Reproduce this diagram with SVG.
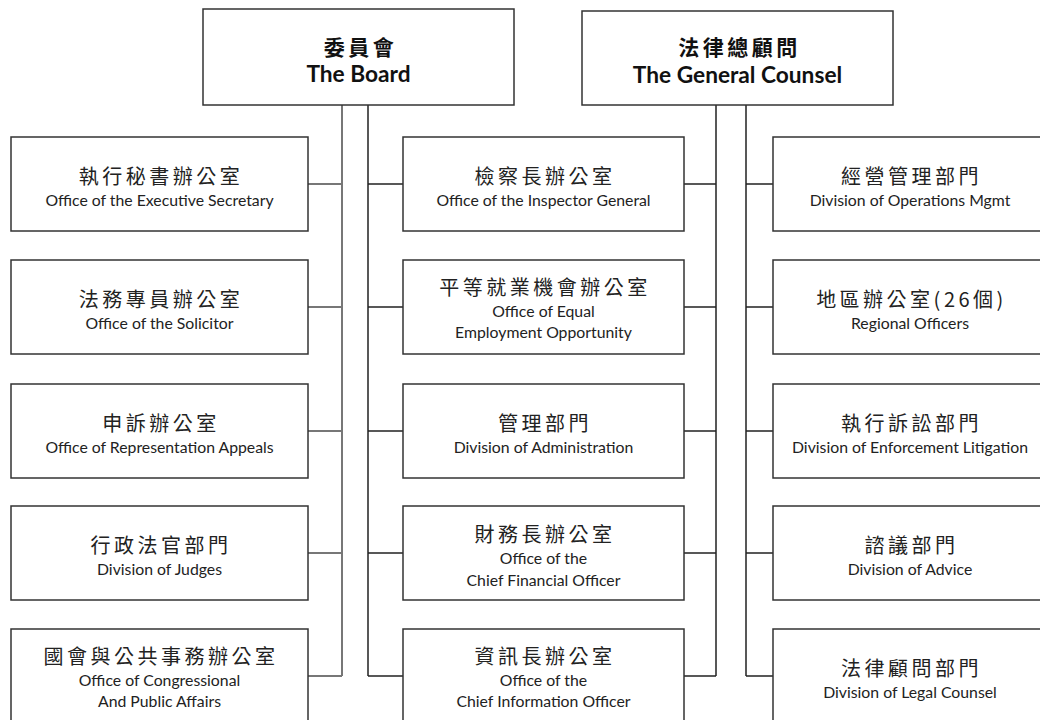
<svg xmlns="http://www.w3.org/2000/svg" width="1040" height="720" viewBox="0 0 1040 720">
<style>
.box{fill:#fff;stroke:#333;stroke-width:1.5}
.zh{font-family:"Noto Sans CJK TC","Noto Sans CJK SC",sans-serif;font-size:20px;letter-spacing:3.5px;fill:#222;text-anchor:middle}
.en{font-family:Lato,"Liberation Sans",sans-serif;font-size:15.8px;fill:#222;text-anchor:middle}
.hzh{font-family:"Noto Sans CJK TC","Noto Sans CJK SC",sans-serif;font-size:21px;font-weight:bold;letter-spacing:3.5px;fill:#111;text-anchor:middle}
.hen{font-family:Lato,"Liberation Sans",sans-serif;font-size:22.7px;font-weight:bold;fill:#111;text-anchor:middle}
.ln{fill:none;stroke:#222;stroke-width:1.5}
.lg{fill:none;stroke:#777;stroke-width:2}
</style>
<rect width="1040" height="720" fill="#fff"/>
<g id="connectors">
<path class="lg" d="M342,105V676M308,184H342M308,307H342M308,431H342M308,553H342M308,676H342"/>
<path class="ln" d="M368,105V676M368,184H403M368,307H403M368,431H403M368,553H403M368,676H403"/>
<path class="ln" d="M716,105V676M684,184H716M684,307H716M684,431H716M684,553H716M684,676H716"/>
<path class="ln" d="M746,105V676M746,184H773M746,307H773M746,431H773M746,553H773M746,676H773"/>
</g>
<g id="board"><rect class="box" x="203" y="9" width="311" height="96"/>
<text class="hzh" x="360.5" y="55">委員會</text><text class="hen" x="358.5" y="82">The Board</text></g>
<g id="counsel"><rect class="box" x="582" y="11" width="311" height="94"/>
<text class="hzh" x="739.5" y="55">法律總顧問</text><text class="hen" x="737.5" y="83">The General Counsel</text></g>

<g id="l1"><rect class="box" x="11" y="137" width="297" height="94"/>
<text class="zh" x="161" y="184">執行秘書辦公室</text><text class="en" x="159.5" y="206">Office of the Executive Secretary</text></g>
<g id="l2"><rect class="box" x="11" y="260" width="297" height="94"/>
<text class="zh" x="161" y="307">法務專員辦公室</text><text class="en" x="159.5" y="329">Office of the Solicitor</text></g>
<g id="l3"><rect class="box" x="11" y="384" width="297" height="94"/>
<text class="zh" x="161" y="431">申訴辦公室</text><text class="en" x="159.5" y="453">Office of Representation Appeals</text></g>
<g id="l4"><rect class="box" x="11" y="506" width="297" height="94"/>
<text class="zh" x="161" y="553">行政法官部門</text><text class="en" x="159.5" y="575">Division of Judges</text></g>
<g id="l5"><rect class="box" x="11" y="629" width="297" height="94"/>
<text class="zh" x="161" y="664">國會與公共事務辦公室</text><text class="en" x="159.5" y="686">Office of Congressional</text><text class="en" x="159.5" y="707">And Public Affairs</text></g>

<g id="m1"><rect class="box" x="403" y="137" width="281" height="94"/>
<text class="zh" x="545" y="184">檢察長辦公室</text><text class="en" x="543.5" y="206">Office of the  Inspector General</text></g>
<g id="m2"><rect class="box" x="403" y="260" width="281" height="94"/>
<text class="zh" x="545" y="295">平等就業機會辦公室</text><text class="en" x="543.5" y="317">Office of Equal</text><text class="en" x="543.5" y="338">Employment  Opportunity</text></g>
<g id="m3"><rect class="box" x="403" y="384" width="281" height="94"/>
<text class="zh" x="545" y="431">管理部門</text><text class="en" x="543.5" y="453">Division of Administration</text></g>
<g id="m4"><rect class="box" x="403" y="506" width="281" height="94"/>
<text class="zh" x="545" y="542">財務長辦公室</text><text class="en" x="543.5" y="564">Office of the</text><text class="en" x="543.5" y="586">Chief Financial Officer</text></g>
<g id="m5"><rect class="box" x="403" y="629" width="281" height="94"/>
<text class="zh" x="545" y="664">資訊長辦公室</text><text class="en" x="543.5" y="686">Office of the</text><text class="en" x="543.5" y="707">Chief Information Officer</text></g>

<g id="r1"><rect class="box" x="773" y="137" width="274" height="94"/>
<text class="zh" x="911.5" y="184">經營管理部門</text><text class="en" x="910" y="206">Division of Operations Mgmt</text></g>
<g id="r2"><rect class="box" x="773" y="260" width="274" height="94"/>
<text class="zh" x="911.5" y="307">地區辦公室(26個)</text><text class="en" x="910" y="329">Regional Officers</text></g>
<g id="r3"><rect class="box" x="773" y="384" width="274" height="94"/>
<text class="zh" x="911.5" y="431">執行訴訟部門</text><text class="en" x="910" y="453">Division of Enforcement  Litigation</text></g>
<g id="r4"><rect class="box" x="773" y="506" width="274" height="94"/>
<text class="zh" x="911.5" y="553">諮議部門</text><text class="en" x="910" y="575">Division of Advice</text></g>
<g id="r5"><rect class="box" x="773" y="629" width="274" height="94"/>
<text class="zh" x="911.5" y="676">法律顧問部門</text><text class="en" x="910" y="698">Division of Legal Counsel</text></g>
</svg>
